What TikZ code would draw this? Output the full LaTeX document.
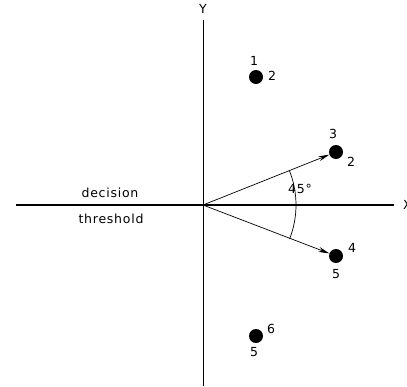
\documentclass[tikz,border=0pt]{standalone}
\usepackage{fontspec}
\setmainfont{DejaVu Sans}
\newfontfamily\lblfont[LetterSpace=6]{DejaVu Sans}
\usetikzlibrary{arrows.meta}
\begin{document}
\begin{tikzpicture}[x=1pt,y=-1pt,
  lbl/.style={font=\lblfont\fontsize{12.5}{13}\selectfont, inner sep=0pt},
  dot/.style={circle, fill=black, minimum size=14pt, inner sep=0pt},
  vec/.style={line width=0.7pt, -{Stealth[length=11pt,width=5pt]}}]
\useasboundingbox (0,0) rectangle (407,386);
% axes
\coordinate (O) at (203,205);
\coordinate (ytop) at (203,20);
\coordinate (ybot) at (203,386);
\coordinate (xl) at (16,205);
\coordinate (xr) at (394,205);
\draw[line width=1pt] (ytop) -- (ybot);
\draw[line width=2pt] (xl) -- (xr);
\node[lbl] (ylab) at (203,9) {Y};
\node[lbl, anchor=west] (xlab) at (403,205) {X};
\node[lbl] (dec) at (110,193) {decision};
\node[lbl] (thr) at (111,219) {threshold};
% points
\node[dot] (p1) at (256,77) {};
\node[lbl] (p1a) at (254,61) {1};
\node[lbl] (p1b) at (272,76) {2};
\node[dot] (p3) at (336,152) {};
\node[lbl] (p3a) at (333,134) {3};
\node[lbl] (p3b) at (351,162) {2};
\node[dot] (p4) at (336,256) {};
\node[lbl] (p4a) at (352,248) {4};
\node[lbl] (p4b) at (336,274) {5};
\node[dot] (p6) at (256,336) {};
\node[lbl] (p6a) at (271,329) {6};
\node[lbl] (p6b) at (254,352) {5};
% vectors
\draw[vec] (O) -- (p3);
\draw[vec] (O) -- (p4);
% angle
\draw[line width=0.7pt] (O) ++(-21.5:93) arc (-21.5:21.5:93);
\node[lbl] (ang) at (300,189) {45°};
\end{tikzpicture}
\end{document}
